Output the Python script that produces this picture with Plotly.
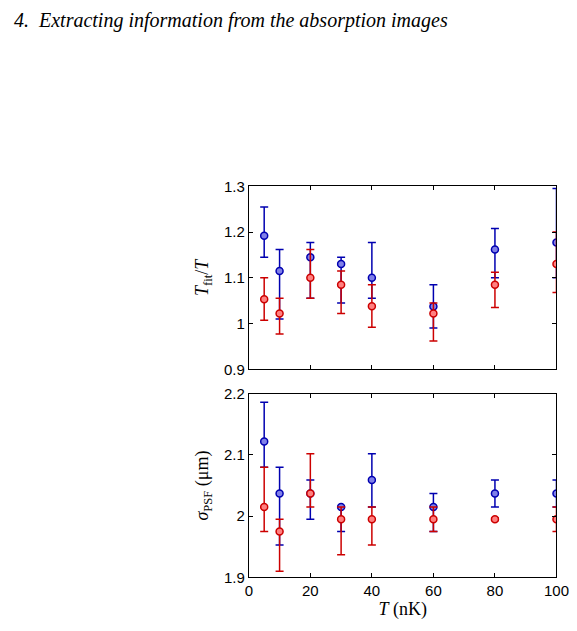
import plotly.graph_objects as go

temps = [5, 10, 20, 30, 40, 60, 80, 100]

# T_fit / T
tfit_blue = [1.192, 1.115, 1.145, 1.13, 1.10, 1.037, 1.162, 1.177]
tfit_blue_hi = [1.255, 1.162, 1.177, 1.145, 1.177, 1.085, 1.208, 1.295]
tfit_blue_lo = [1.145, 1.01, 1.055, 1.045, 1.055, 0.99, 1.10, 1.10]
tfit_red = [1.053, 1.022, 1.10, 1.085, 1.038, 1.022, 1.085, 1.13]
tfit_red_hi = [1.10, 1.055, 1.162, 1.115, 1.085, 1.045, 1.112, 1.20]
tfit_red_lo = [1.007, 0.977, 1.055, 1.022, 0.992, 0.962, 1.035, 1.068]

# sigma_PSF (um)
psf_blue = [2.122, 2.037, 2.037, 2.015, 2.059, 2.015, 2.037, 2.037]
psf_blue_hi = [2.186, 2.08, 2.059, 2.015, 2.102, 2.037, 2.059, 2.059]
psf_blue_lo = [2.08, 1.953, 1.995, 1.975, 2.015, 1.975, 2.015, 2.015]
psf_red = [2.015, 1.975, 2.037, 1.995, 1.995, 1.995, 1.995, 1.995]
psf_red_hi = [2.08, 1.995, 2.102, 2.015, 2.015, 2.015, 1.997, 2.015]
psf_red_lo = [1.975, 1.91, 2.015, 1.937, 1.953, 1.975, 1.993, 1.975]

BLUE_EDGE, BLUE_FILL = "#0000b0", "#8080e8"
RED_EDGE, RED_FILL = "#cc0000", "#ff8080"


def err_trace(ys, hi, lo, edge, fill, xa, ya):
    return go.Scatter(
        x=temps, y=ys, mode="markers", xaxis=xa, yaxis=ya, showlegend=False,
        marker=dict(size=7, color=fill, line=dict(color=edge, width=1.5)),
        error_y=dict(type="data", symmetric=False,
                     array=[h - v for h, v in zip(hi, ys)],
                     arrayminus=[v - l for v, l in zip(ys, lo)],
                     color=edge, thickness=1.5, width=4),
    )


fig = go.Figure()
fig.add_trace(err_trace(tfit_blue, tfit_blue_hi, tfit_blue_lo, BLUE_EDGE, BLUE_FILL, "x", "y"))
fig.add_trace(err_trace(tfit_red, tfit_red_hi, tfit_red_lo, RED_EDGE, RED_FILL, "x", "y"))
fig.add_trace(err_trace(psf_blue, psf_blue_hi, psf_blue_lo, BLUE_EDGE, BLUE_FILL, "x2", "y2"))
fig.add_trace(err_trace(psf_red, psf_red_hi, psf_red_lo, RED_EDGE, RED_FILL, "x2", "y2"))

ax = dict(showline=True, linecolor="black", linewidth=1, mirror="allticks",
          ticks="inside", ticklen=4, tickcolor="black", showgrid=False,
          zeroline=False, tickfont=dict(size=15, family="Liberation Sans", color="black"))
fd = [244 / 577, 561 / 577]

fig.update_layout(
    width=577, height=631, margin=dict(l=0, r=0, t=0, b=0),
    paper_bgcolor="white", plot_bgcolor="white",
    font=dict(family="Liberation Serif", color="black"),
    xaxis=dict(ax, domain=fd, range=[0, 100], dtick=20, showticklabels=False, anchor="y"),
    yaxis=dict(ax, domain=[1 - 362 / 631, 1 - 174 / 631], range=[0.9, 1.3],
               tickvals=[0.9, 1.0, 1.1, 1.2, 1.3], ticktext=["0.9", "1", "1.1", "1.2", "1.3"],
               title=dict(text="<i>T</i><sub>fit</sub>/<i>T</i>", font=dict(size=18), standoff=10),
               anchor="x"),
    xaxis2=dict(ax, domain=fd, range=[0, 100], dtick=20, anchor="y2",
                title=dict(text="<i>T</i> (nK)", font=dict(size=18), standoff=2)),
    yaxis2=dict(ax, domain=[1 - 576 / 631, 1 - 387 / 631], range=[1.9, 2.2],
                tickvals=[1.9, 2.0, 2.1, 2.2], ticktext=["1.9", "2", "2.1", "2.2"],
                title=dict(text="<i>σ</i><sub>PSF</sub> (μm)", font=dict(size=18), standoff=10),
                anchor="x2"),
    annotations=[dict(text="<i>4.  Extracting information from the absorption images</i>",
                      x=0.0, y=1 - 4 / 631, xref="paper", yref="paper",
                      xanchor="left", yanchor="middle", showarrow=False,
                      font=dict(size=20, family="Liberation Serif", color="black"))],
)

fig.write_html("out.html")
